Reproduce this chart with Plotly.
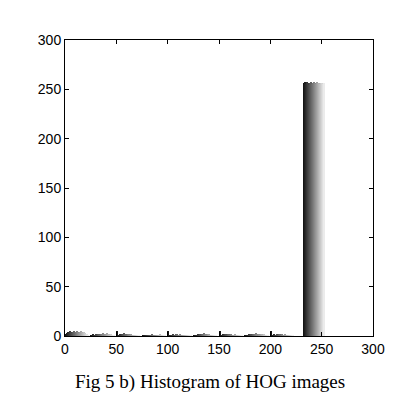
import plotly.graph_objects as go

# histogram data: each group is a run of consecutive bins
group_starts = [0, 25, 50, 75, 100, 125, 150, 175, 200, 232]
group_heights = [
    [2, 3, 4, 3, 5, 4, 3, 4, 5, 4, 4, 5, 4, 3, 4, 5, 4, 3, 4, 3, 2, 2, 1],
    [1, 1, 2, 1, 1, 2, 1, 2, 2, 1, 2, 2, 3, 2, 2, 3, 2, 2, 1, 2, 1, 1, 1],
    [5, 1, 1, 2, 1, 2, 2, 3, 2, 2, 1, 2, 2, 1, 2, 1, 1, 1, 1, 1, 1, 1, 1],
    [1, 1, 1, 1, 1, 1, 1, 1, 1, 2, 1, 1, 1, 1, 1, 1, 1, 2, 1, 1, 1, 1, 1],
    [5, 1, 1, 1, 1, 2, 1, 1, 2, 2, 1, 1, 2, 1, 1, 1, 1, 1, 1, 1, 1, 1, 1],
    [1, 1, 1, 1, 2, 1, 2, 1, 2, 2, 3, 2, 2, 1, 2, 2, 1, 1, 1, 1, 1, 1, 1],
    [5, 1, 1, 2, 1, 2, 2, 1, 2, 2, 1, 2, 1, 1, 1, 2, 1, 1, 1, 1, 1, 1, 1],
    [1, 1, 1, 1, 2, 1, 2, 1, 2, 2, 2, 3, 2, 2, 1, 2, 2, 1, 2, 1, 1, 1, 1],
    [5, 1, 1, 2, 1, 1, 2, 1, 2, 2, 1, 2, 1, 1, 2, 1, 1, 1, 1, 1, 1, 1, 1],
    [256, 257, 255, 257, 256, 254, 256, 257, 255, 256, 257, 256, 255, 257, 256, 256, 255, 256, 256, 255, 256],
]

xs, ys, cols = [], [], []
for start, hs in zip(group_starts, group_heights):
    n = len(hs)
    for i, h in enumerate(hs):
        g = int(20 + 215 * i / (n - 1))  # dark -> light inside each run
        xs.append(start + i + 0.5)
        ys.append(h)
        cols.append(f"rgb({g},{g},{g})")

fig = go.Figure()
fig.add_trace(go.Bar(x=xs, y=ys, width=1, marker=dict(color=cols, line=dict(width=0)),
                     showlegend=False))

axis_common = dict(
    showgrid=False, zeroline=False, showline=True, linecolor="black", linewidth=1,
    mirror="ticks", ticks="inside", ticklen=4, tickcolor="black",
    tickfont=dict(family="Liberation Sans, Arial", size=14, color="black"),
    dtick=50, automargin=False,
)
fig.update_xaxes(range=[0, 300], **axis_common)
fig.update_yaxes(range=[0, 300], **axis_common)

fig.add_annotation(text="Fig 5 b) Histogram of HOG images", xref="paper", yref="paper",
                   x=0.47, y=-0.11, xanchor="center", yanchor="top", showarrow=False,
                   font=dict(family="Liberation Serif, Times New Roman", size=19, color="black"))

# page body has an 8px default margin, so margins are reduced to compensate
fig.update_layout(
    width=400, height=408,
    margin=dict(l=57, r=35, t=32, b=80, pad=0),
    plot_bgcolor="white", paper_bgcolor="white",
    bargap=0,
)

fig.write_html("out.html")
